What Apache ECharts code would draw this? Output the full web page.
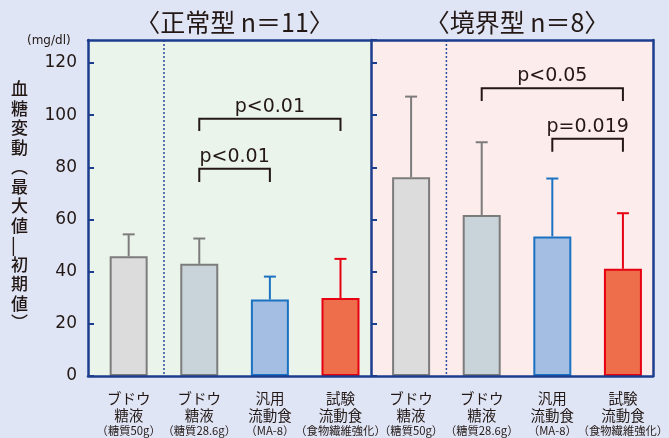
<!DOCTYPE html>
<html>
<head>
<meta charset="utf-8">
<script src="https://cdn.jsdelivr.net/npm/echarts@6/dist/echarts.min.js"></script>
<style>
  html, body { margin: 0; padding: 0; background: #dfe5f5; }
  #chart { width: 669px; height: 438px; }
</style>
</head>
<body>
<div id="chart"></div>
<script>
// グループ見出し
const groupTitles = ['〈正常型 n＝11〉', '〈境界型 n＝8〉'];
// カテゴリ名（3行）
const nameLine1 = ['ブドウ', 'ブドウ', '汎用', '試験', 'ブドウ', 'ブドウ', '汎用', '試験'];
const nameLine2 = ['糖液', '糖液', '流動食', '流動食', '糖液', '糖液', '流動食', '流動食'];
const nameLine3 = ['（糖質50g）', '（糖質28.6g）', '（MA-8）', '（食物繊維強化）',
                   '（糖質50g）', '（糖質28.6g）', '（MA-8）', '（食物繊維強化）'];
// 平均値と標準偏差
const meanValues = [45.9, 43.0, 29.3, 29.9, 76.2, 61.7, 53.5, 41.1];
const sdValues = [8.4, 9.7, 8.8, 15.0, 30.9, 27.9, 22.2, 21.3];
// 有意差ブラケット [左, 右, 線の高さ, 脚の下端]
const bracketSpans = [[1, 3, 98.6, 93.9], [1, 2, 79.4, 74.4], [5, 7, 110.3, 105.4], [6, 7, 90.9, 86.0]];
const bracketLabels = ['p<0.01', 'p<0.01', 'p<0.05', 'p=0.019'];

const fillColors = ['#dcdcdc', '#c9d3da', '#a4bde3', '#ee6d4a', '#dcdcdc', '#c9d3da', '#a4bde3', '#ee6d4a'];
const lineColors = ['#7c7c7c', '#7c7c7c', '#1b72c2', '#e60012', '#7c7c7c', '#7c7c7c', '#1b72c2', '#e60012'];
const navy = '#1d3d8e';
const ink = '#231815';
const jp = '"Noto Sans CJK JP", "Noto Sans", sans-serif';
const num = '"DejaVu Sans", sans-serif';

const X_MIN = -0.576, X_MAX = 7.426, Y_MAX = 128.8;
const SPLIT = 3.43;

let chart = echarts.init(document.getElementById('chart'));

const hiddenY = { axisLabel: { show: false }, splitLine: { show: false } };

chart.setOption({
    backgroundColor: '#dfe5f5',
    animation: false,
    title: [
        { text: groupTitles[0], left: 229.5, top: 5, textAlign: 'center',
          textStyle: { fontFamily: jp, fontSize: 25, fontWeight: 'normal', color: ink } },
        { text: groupTitles[1], left: 512, top: 5, textAlign: 'center',
          textStyle: { fontFamily: jp, fontSize: 25, fontWeight: 'normal', color: ink } }
    ],
    graphic: [
        { type: 'text', left: 27, top: 35,
          style: { text: '(mg/dl)', fontFamily: num, fontSize: 12, fill: ink } },
        { type: 'text', left: 11, top: 79,
          style: { text: '血\n糖\n変\n動\n︵\n最\n大\n値\n|\n初\n期\n値\n︶',
                   fontFamily: jp, fontSize: 17, fontWeight: 500, lineHeight: 19.5, fill: ink, align: 'center' } }
    ],
    grid: { left: 88, right: 16, top: 40, bottom: 62 },
    xAxis: [
        { type: 'value', min: X_MIN, max: X_MAX, z: 10,
          axisLine: { show: true, onZero: false, lineStyle: { color: navy, width: 2.5 } },
          axisTick: { show: false }, axisLabel: { show: false }, splitLine: { show: false } },
        { type: 'value', position: 'top', min: X_MIN, max: X_MAX, z: 10,
          axisLine: { show: true, onZero: false, lineStyle: { color: navy, width: 2.5 } },
          axisTick: { show: false }, axisLabel: { show: false }, splitLine: { show: false } }
    ],
    yAxis: [
        { type: 'value', min: 0, max: Y_MAX, interval: 20, z: 10,
          axisLine: { show: true, onZero: false, lineStyle: { color: navy, width: 2.5 } },
          axisTick: { show: true, inside: true, length: 6, lineStyle: { color: navy, width: 2 } },
          axisLabel: { showMaxLabel: false, margin: 11, fontFamily: num, fontSize: 17, color: ink },
          splitLine: { show: false } },
        Object.assign({ type: 'value', position: 'left', offset: -283, min: 0, max: Y_MAX, interval: 20, z: 10,
          axisLine: { show: true, onZero: false, lineStyle: { color: navy, width: 2.5 } },
          axisTick: { show: true, inside: true, length: 6, lineStyle: { color: navy, width: 2 } } }, hiddenY),
        Object.assign({ type: 'value', position: 'right', min: 0, max: Y_MAX, z: 10,
          axisLine: { show: true, onZero: false, lineStyle: { color: navy, width: 2.5 } },
          axisTick: { show: false } }, hiddenY)
    ],
    series: [
        {
            // パネル背景と点線
            type: 'custom', z: 0, silent: true,
            data: [[X_MIN, SPLIT, 0.5], [SPLIT, X_MAX, 4.5]],
            renderItem(params, api) {
                const cs = params.coordSys;
                const a = api.coord([api.value(0), 0])[0];
                const b = api.coord([api.value(1), 0])[0];
                const d = api.coord([api.value(2), 0])[0];
                return { type: 'group', children: [
                    { type: 'rect', shape: { x: a, y: cs.y, width: b - a, height: cs.height },
                      style: { fill: params.dataIndex === 0 ? '#ebf4ea' : '#fdecec' } },
                    { type: 'line', shape: { x1: d, y1: cs.y, x2: d, y2: cs.y + cs.height },
                      style: { stroke: '#2a4d9e', lineWidth: 1.5, lineDash: [2, 2] } }
                ] };
            }
        },
        {
            type: 'bar', barWidth: 38, z: 2,
            data: meanValues.map((v, i) => ({
                value: [i, v],
                itemStyle: { color: fillColors[i], borderColor: lineColors[i], borderWidth: 2 }
            }))
        },
        {
            // 誤差棒
            type: 'custom', z: 3,
            encode: { x: 0, y: [1, 2] },
            data: meanValues.map((v, i) => [i, v, v + sdValues[i]]),
            renderItem(params, api) {
                const p0 = api.coord([api.value(0), api.value(1)]);
                const p1 = api.coord([api.value(0), api.value(2)]);
                const c = lineColors[params.dataIndex];
                return { type: 'group', children: [
                    { type: 'line', shape: { x1: p0[0], y1: p0[1], x2: p1[0], y2: p1[1] },
                      style: { stroke: c, lineWidth: 2 } },
                    { type: 'line', shape: { x1: p1[0] - 6, y1: p1[1], x2: p1[0] + 6, y2: p1[1] },
                      style: { stroke: c, lineWidth: 2 } }
                ] };
            }
        },
        {
            // 有意差ブラケット
            type: 'custom', z: 3,
            encode: { x: [0, 1], y: [2, 3] },
            data: bracketSpans,
            renderItem(params, api) {
                const x1 = api.value(0), x2 = api.value(1), yl = api.value(2), ye = api.value(3);
                const a = api.coord([x1, ye]), b = api.coord([x1, yl]);
                const c = api.coord([x2, yl]), d = api.coord([x2, ye]);
                return { type: 'group', children: [
                    { type: 'polyline', shape: { points: [a, b, c, d] },
                      style: { stroke: ink, lineWidth: 2, fill: null } },
                    { type: 'text', x: (b[0] + c[0]) / 2, y: b[1] - 12,
                      style: { text: bracketLabels[params.dataIndex], fontFamily: num, fontSize: 19,
                               fill: ink, align: 'center', verticalAlign: 'middle' } }
                ] };
            }
        },
        {
            // カテゴリラベル
            type: 'custom', z: 3, clip: false,
            encode: { x: 0, y: 1 },
            data: nameLine1.map((s, i) => [i, 0]),
            renderItem(params, api) {
                const p = api.coord([api.value(0), 0]);
                const i = params.dataIndex;
                const base = { fontFamily: jp, fill: ink, align: 'center', verticalAlign: 'middle' };
                return { type: 'group', children: [
                    { type: 'text', x: p[0], y: p[1] + 22.5, style: Object.assign({ text: nameLine1[i], fontSize: 14.5 }, base) },
                    { type: 'text', x: p[0], y: p[1] + 39.5, style: Object.assign({ text: nameLine2[i], fontSize: 14.5 }, base) },
                    { type: 'text', x: p[0], y: p[1] + 55, style: Object.assign({ text: nameLine3[i], fontSize: 11.3 }, base) }
                ] };
            }
        }
    ]
});
</script>
</body>
</html>
